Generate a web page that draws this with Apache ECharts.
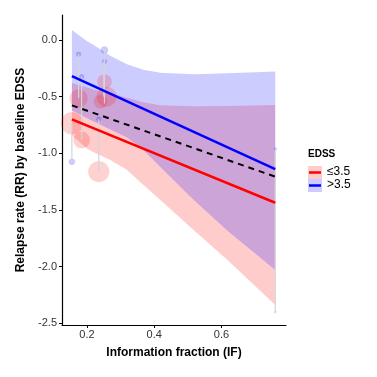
<!DOCTYPE html>
<html>
<head>
<meta charset="utf-8">
<script src="https://cdn.jsdelivr.net/npm/echarts@6/dist/echarts.min.js"></script>
<style>
  html, body { margin: 0; padding: 0; background: #fff; }
  #chart { width: 377px; height: 377px; }
</style>
</head>
<body>
<div id="chart"></div>
<script>
// axis ticks
var xTicks = [0.2, 0.4, 0.6];
var yTicks = [-2.5, -2.0, -1.5, -1.0, -0.5, 0.0];

// study points: [IF, RR], weight (bubble area)
var redPoints = [[0.155, -0.735], [0.175, -0.515], [0.184, -0.883], [0.252, -0.368], [0.258, -0.50], [0.240, -0.544], [0.235, -1.162], [0.760, -2.40]];
var redWeights = [121, 81, 69, 53, 100, 45, 110, 1.5];
var bluePoints = [[0.155, -1.074], [0.175, -0.126], [0.184, -0.324], [0.252, -0.088], [0.252, -0.19], [0.235, -0.70], [0.760, -0.962]];
var blueWeights = [9, 6, 6, 12, 6, 6, 2.5];

// gray segments between paired estimates: [IF, from, to]
var pairs = [[0.155, -0.735, -1.074], [0.175, -0.126, -0.515], [0.184, -0.324, -0.883], [0.252, -0.088, -0.56], [0.250, -0.19, -0.50], [0.235, -0.70, -1.162], [0.760, -0.962, -2.40]];

// fitted lines (ends)
var redLine = [[0.155, -0.70], [0.760, -1.436]];
var blueLine = [[0.155, -0.318], [0.760, -1.139]];
var allLine = [[0.155, -0.577], [0.760, -1.206]];

// confidence bands
var bandX = [0.155, 0.200, 0.220, 0.269, 0.319, 0.368, 0.418, 0.517, 0.617, 0.760];
var redUpper = [-0.38, -0.42, -0.44, -0.47, -0.51, -0.55, -0.575, -0.585, -0.582, -0.574];
var redLower = [-0.84, -0.96, -0.99, -1.06, -1.147, -1.28, -1.412, -1.677, -1.94, -2.339];
var blueUpper = [0.088, -0.01, -0.044, -0.14, -0.215, -0.262, -0.288, -0.303, -0.294, -0.279];
var blueLower = [-0.62, -0.69, -0.72, -0.79, -0.86, -0.97, -1.12, -1.41, -1.68, -2.03];

var font = '"Liberation Sans", Arial, sans-serif';
var chart = echarts.init(document.getElementById('chart'));

function band(upper, lower, color) {
    return {
        type: 'custom',
        silent: true,
        z: 1,
        data: [[bandX[0], upper[0]]],
        renderItem: function (params, api) {
            var pts = [];
            for (var i = 0; i < bandX.length; i++) pts.push(api.coord([bandX[i], upper[i]]));
            for (var j = bandX.length - 1; j >= 0; j--) pts.push(api.coord([bandX[j], lower[j]]));
            return { type: 'polygon', shape: { points: pts }, style: { fill: color } };
        }
    };
}

chart.setOption({
    animation: false,
    grid: { left: 62, right: 91, top: 15, bottom: 52 },
    xAxis: {
        type: 'value',
        min: 0.1256,
        max: 0.792,
        name: 'Information fraction (IF)',
        nameLocation: 'middle',
        nameGap: 22,
        nameTextStyle: { fontFamily: font, fontWeight: 'bold', fontSize: 12, color: '#000' },
        axisLine: { onZero: false, lineStyle: { color: '#000', width: 1.2 } },
        axisTick: { customValues: xTicks, length: 3, lineStyle: { color: '#000' } },
        axisLabel: { customValues: xTicks, margin: 4, fontFamily: font, fontSize: 11, color: '#333',
            formatter: function (v) { return v.toFixed(1); } },
        splitLine: { show: false }
    },
    yAxis: {
        type: 'value',
        min: -2.515,
        max: 0.2206,
        name: 'Relapse rate (RR) by baseline EDSS',
        nameLocation: 'middle',
        nameGap: 34,
        nameTextStyle: { fontFamily: font, fontWeight: 'bold', fontSize: 12, color: '#000' },
        axisLine: { onZero: false, lineStyle: { color: '#000', width: 1.2 } },
        axisTick: { customValues: yTicks, length: 3, lineStyle: { color: '#000' } },
        axisLabel: { customValues: yTicks, margin: 5, fontFamily: font, fontSize: 11, color: '#333',
            formatter: function (v) { return v.toFixed(1); } },
        splitLine: { show: false }
    },
    graphic: [
        { type: 'text', left: 308, top: 149, style: { text: 'EDSS', font: 'bold 10px ' + font, fill: '#000' } },
        { type: 'rect', left: 308, top: 166, shape: { width: 14, height: 13 }, style: { fill: 'rgba(255,0,0,0.2)' } },
        { type: 'line', shape: { x1: 309, y1: 172.5, x2: 321, y2: 172.5 }, style: { stroke: '#ff0000', lineWidth: 2.5 } },
        { type: 'rect', left: 308, top: 179, shape: { width: 14, height: 13 }, style: { fill: 'rgba(0,0,255,0.2)' } },
        { type: 'line', shape: { x1: 309, y1: 185.5, x2: 321, y2: 185.5 }, style: { stroke: '#0000ff', lineWidth: 2.5 } },
        { type: 'text', left: 327, top: 166, style: { text: '≤3.5', font: '12px ' + font, fill: '#000' } },
        { type: 'text', left: 327, top: 179, style: { text: '>3.5', font: '12px ' + font, fill: '#000' } }
    ],
    series: [
        band(redUpper, redLower, 'rgba(255,0,0,0.2)'),
        band(blueUpper, blueLower, 'rgba(0,0,255,0.2)'),
        {
            type: 'scatter',
            z: 2,
            silent: true,
            data: redPoints.map(function (p, i) { return { value: p, symbolSize: 2 * Math.sqrt(redWeights[i]) }; }),
            itemStyle: { color: 'rgba(255,0,0,0.22)', borderColor: 'rgba(255,0,0,0.1)', borderWidth: 0.5 }
        },
        {
            type: 'scatter',
            z: 2,
            silent: true,
            data: bluePoints.map(function (p, i) { return { value: p, symbolSize: 2 * Math.sqrt(blueWeights[i]) }; }),
            itemStyle: { color: 'rgba(0,0,255,0.25)', borderColor: 'rgba(0,0,255,0.15)', borderWidth: 0.5 }
        },
        {
            type: 'custom',
            z: 3,
            silent: true,
            data: pairs,
            renderItem: function (params, api) {
                var a = api.coord([api.value(0), api.value(1)]);
                var b = api.coord([api.value(0), api.value(2)]);
                return { type: 'line', shape: { x1: a[0], y1: a[1], x2: b[0], y2: b[1] },
                    style: { stroke: '#d4d4d4', lineWidth: 1.2 } };
            }
        },
        { type: 'line', z: 4, silent: true, data: redLine, showSymbol: false, lineStyle: { color: '#ff0000', width: 2.5 } },
        { type: 'line', z: 4, silent: true, data: blueLine, showSymbol: false, lineStyle: { color: '#0000ff', width: 2.5 } },
        { type: 'line', z: 4, silent: true, data: allLine, showSymbol: false, lineStyle: { color: '#000', width: 2, type: [6, 5] } }
    ]
});
</script>
</body>
</html>
